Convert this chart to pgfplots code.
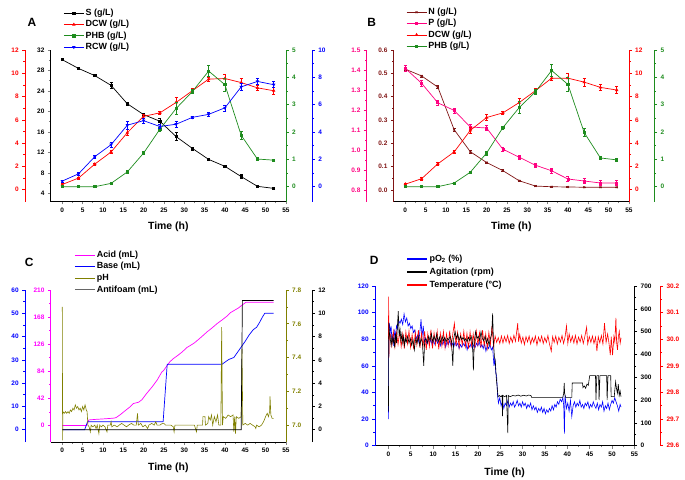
\documentclass[border=0pt]{standalone}
\usepackage{fontspec}
\setmainfont{Liberation Sans}
\usepackage{pgfplots}
\pgfplotsset{compat=1.18}
\definecolor{cgreen}{RGB}{30,140,30}
\definecolor{cbrown}{RGB}{128,20,20}
\definecolor{cpink}{RGB}{255,0,128}
\definecolor{cmag}{RGB}{255,0,255}
\definecolor{colive}{RGB}{128,128,0}
\definecolor{cblue}{RGB}{0,0,255}
\definecolor{cred}{RGB}{255,0,0}
\tikzset{letter/.style={font=\fontsize{12}{12}\selectfont\bfseries}}
\pgfplotsset{
 base/.style={scale only axis, anchor=south west, clip=false,
   axis line style={line width=0.8bp,-},
   tick align=outside, major tick length=2.8bp, minor tick length=1.6bp,
   every tick/.append style={line width=0.6bp},
   minor tick num=1,
   tick label style={font=\fontsize{6.5}{7}\selectfont\bfseries},
   /pgf/number format/assume math mode=true,
   xtick={0,5,...,55},
   xlabel style={at={(axis description cs:0.5,0)}, anchor=center, font=\fontsize{10.5}{12}\selectfont\bfseries},
 },
 yc/.style={y axis line style={draw=#1}, every y tick/.append style={draw=#1}, yticklabel style={text=#1}},
 fix1/.style={yticklabel style={/pgf/number format/.cd, fixed, fixed zerofill, precision=1}},
 eb/.style={error bars/.cd, y dir=both, y explicit, error bar style={line width=0.5bp}, error mark options={rotate=90, mark size=1.5bp, line width=0.5bp}},
 leg/.style 2 args={legend style={at={#1}, anchor=north west, draw=none, fill=none, inner sep=0pt, outer sep=0pt, cells={anchor=west}, row sep=0pt, font=\fontsize{9}{10}\selectfont\bfseries, #2},
   legend image code/.code={\draw[mark repeat=2, mark phase=2, ##1] plot coordinates {(0bp,0bp) (10bp,0bp) (20bp,0bp)};}},
}
\begin{document}
\begin{tikzpicture}
\useasboundingbox (0,0) rectangle (685bp,480bp);
% ================= PANEL A =================
\begin{axis}[base, at={(50.7bp,278.3bp)}, width=235.2bp, height=151.7bp,
  xmin=-2.85, xmax=55, ymin=2.4, ymax=32, ytick={4,8,...,32},
  axis x line*=bottom, axis y line*=left, xlabel={Time (h)}, xlabel style={yshift=-25bp}]
\addplot[black, line width=0.7bp, mark=square*, mark size=1.1bp, eb] coordinates {
(0,30.1)+-(0,0.15) (4,28.4)+-(0,0.15) (8,27.0)+-(0,0.2) (12,25.1)+-(0,0.6) (16,21.5)+-(0,0.2) (20,19.4)+-(0,0.3) (24,18.1)+-(0,0.5) (28,15.1)+-(0,0.8) (32,12.8)+-(0,0.3) (36,10.65)+-(0,0.2) (40,9.3)+-(0,0.2) (44,7.3)+-(0,0.4) (48,5.4)+-(0,0.2) (52,5.0)+-(0,0.15)};
\node[letter] at (axis description cs:-0.0795,1.1826) {A};
\end{axis}
\begin{axis}[base, yc=cred, at={(25bp,278.3bp)}, width=260.9bp, height=151.7bp,
  xmin=-9.174, xmax=55, ymin=-1.03, ymax=12, ytick={0,2,...,12},
  hide x axis, axis y line*=left]
\addplot[cred, line width=0.7bp, mark=triangle*, mark size=1.3bp, eb] coordinates {
(0,0.45)+-(0,0.1) (4,1.0)+-(0,0.1) (8,2.2)+-(0,0.1) (12,3.24)+-(0,0.15) (16,4.9)+-(0,0.25) (20,6.3)+-(0,0.2) (24,6.6)+-(0,0.1) (28,7.5)+-(0,0.45) (32,8.5)+-(0,0.2) (36,9.5)+-(0,0.15) (40,9.55)+-(0,0.4) (44,9.2)+-(0,0.35) (48,8.75)+-(0,0.25) (52,8.5)+-(0,0.3)};
\end{axis}
\begin{axis}[base, yc=cgreen, at={(50.7bp,278.3bp)}, width=235.2bp, height=151.7bp,
  xmin=-2.85, xmax=55, ymin=-0.55, ymax=5, ytick={0,1,...,5},
  hide x axis, axis y line*=right]
\addplot[cgreen, line width=0.7bp, mark=square*, mark size=1.1bp, eb] coordinates {
(0,0)+-(0,0.02) (4,0)+-(0,0.02) (8,0)+-(0,0.02) (12,0.12)+-(0,0.02) (16,0.54)+-(0,0.03) (20,1.23)+-(0,0.06) (24,2.1)+-(0,0.06) (28,2.86)+-(0,0.22) (32,3.48)+-(0,0.08) (36,4.23)+-(0,0.2) (40,3.73)+-(0,0.25) (44,1.88)+-(0,0.15) (48,1.01)+-(0,0.06) (52,0.97)+-(0,0.04)};
\end{axis}
\begin{axis}[base, yc=cblue, at={(50.7bp,278.3bp)}, width=261.3bp, height=151.7bp,
  xmin=-2.85, xmax=61.42, ymin=-1.1, ymax=10, ytick={0,2,...,10},
  hide x axis, axis y line*=right,
  leg={(0.049,1.2795)}{nodes={inner sep=1.5bp, text height=6.5bp, text depth=1.8bp}}]
\addlegendimage{black, line width=0.7bp, mark=square*, mark size=1.1bp}\addlegendentry{S (g/L)}
\addlegendimage{cred, line width=0.7bp, mark=triangle*, mark size=1.3bp}\addlegendentry{DCW (g/L)}
\addlegendimage{cgreen, line width=0.7bp, mark=square*, mark size=1.1bp}\addlegendentry{PHB (g/L)}
\addlegendimage{cblue, line width=0.7bp, mark=triangle*, mark options={rotate=180}, mark size=1.3bp}\addlegendentry{RCW (g/L)}
\addplot[forget plot, cblue, line width=0.7bp, mark=triangle*, mark options={rotate=180}, mark size=1.3bp, eb] coordinates {
(0,0.41)+-(0,0.08) (4,0.94)+-(0,0.08) (8,2.2)+-(0,0.1) (12,3.07)+-(0,0.15) (16,4.5)+-(0,0.3) (20,4.83)+-(0,0.2) (24,4.4)+-(0,0.15) (28,4.57)+-(0,0.22) (32,5.07)+-(0,0.1) (36,5.29)+-(0,0.12) (40,5.77)+-(0,0.22) (44,7.3)+-(0,0.25) (48,7.7)+-(0,0.2) (52,7.46)+-(0,0.22)};
\end{axis}
% ================= PANEL B =================
\begin{axis}[base, yc=cbrown, fix1, at={(393.7bp,278.3bp)}, width=235.2bp, height=151.7bp,
  xmin=-2.85, xmax=55, ymin=-0.05, ymax=0.6, ytick={0,0.1,0.2,0.3,0.4,0.5,0.6},
  axis x line*=bottom, axis y line*=left, x axis line style={draw=black}, xlabel={Time (h)}, xlabel style={yshift=-25bp}]
\addplot[cbrown, line width=0.7bp, mark=x, mark size=1.3bp, eb] coordinates {
(0,0.518)+-(0,0.005) (4,0.489)+-(0,0.004) (8,0.441)+-(0,0.007) (12,0.259)+-(0,0.006) (16,0.164)+-(0,0.007) (20,0.118)+-(0,0.003) (24,0.083)+-(0,0.004) (28,0.040)+-(0,0.003) (32,0.017)+-(0,0.002) (36,0.014)+-(0,0.002) (40,0.013)+-(0,0.002) (44,0.012)+-(0,0.002) (48,0.012)+-(0,0.002) (52,0.012)+-(0,0.002)};
\node[letter] at (axis description cs:-0.0935,1.1826) {B};
\end{axis}
\begin{axis}[base, yc=cpink, fix1, at={(366.7bp,278.3bp)}, width=262.2bp, height=151.7bp,
  xmin=-9.49, xmax=55, ymin=0.7415, ymax=1.5, ytick={0.8,0.9,1.0,1.1,1.2,1.3,1.4,1.5},
  hide x axis, axis y line*=left]
\addplot[cpink, line width=0.7bp, mark=square, mark size=1.0bp, eb] coordinates {
(0,1.408)+-(0,0.015) (4,1.334)+-(0,0.013) (8,1.236)+-(0,0.013) (12,1.198)+-(0,0.013) (16,1.115)+-(0,0.012) (20,1.11)+-(0,0.012) (24,1.004)+-(0,0.012) (28,0.964)+-(0,0.012) (32,0.924)+-(0,0.012) (36,0.896)+-(0,0.013) (40,0.855)+-(0,0.012) (44,0.845)+-(0,0.012) (48,0.835)+-(0,0.012) (52,0.835)+-(0,0.013)};
\end{axis}
\begin{axis}[base, yc=cred, at={(393.7bp,278.3bp)}, width=235.2bp, height=151.7bp,
  xmin=-2.85, xmax=55, ymin=-1.03, ymax=12, ytick={0,2,...,12},
  hide x axis, axis y line*=right]
\addplot[cred, line width=0.7bp, mark=triangle*, mark size=1.3bp, eb] coordinates {
(0,0.48)+-(0,0.1) (4,0.94)+-(0,0.1) (8,2.22)+-(0,0.1) (12,3.24)+-(0,0.15) (16,5.1)+-(0,0.25) (20,6.2)+-(0,0.25) (24,6.6)+-(0,0.1) (28,7.48)+-(0,0.4) (32,8.5)+-(0,0.2) (36,9.58)+-(0,0.15) (40,9.58)+-(0,0.4) (44,9.24)+-(0,0.35) (48,8.79)+-(0,0.25) (52,8.56)+-(0,0.3)};
\end{axis}
\begin{axis}[base, yc=cgreen, at={(393.7bp,278.3bp)}, width=260.6bp, height=151.7bp,
  xmin=-2.85, xmax=61.25, ymin=-0.55, ymax=5, ytick={0,1,...,5},
  hide x axis, axis y line*=right,
  leg={(0.048,1.286)}{nodes={inner sep=1.5bp, text height=6.5bp, text depth=1.8bp}}]
\addlegendimage{cbrown, line width=0.7bp, mark=x, mark size=1.3bp}\addlegendentry{N (g/L)}
\addlegendimage{cpink, line width=0.7bp, mark=square, mark size=1.0bp}\addlegendentry{P (g/L)}
\addlegendimage{cred, line width=0.7bp, mark=triangle*, mark size=1.3bp}\addlegendentry{DCW (g/L)}
\addlegendimage{cgreen, line width=0.7bp, mark=square*, mark size=1.1bp}\addlegendentry{PHB (g/L)}
\addplot[forget plot, cgreen, line width=0.7bp, mark=square*, mark size=1.1bp, eb] coordinates {
(0,0)+-(0,0.02) (4,0)+-(0,0.02) (8,0)+-(0,0.02) (12,0.13)+-(0,0.02) (16,0.53)+-(0,0.03) (20,1.23)+-(0,0.07) (24,2.16)+-(0,0.06) (28,2.89)+-(0,0.22) (32,3.47)+-(0,0.08) (36,4.25)+-(0,0.22) (40,3.74)+-(0,0.25) (44,1.98)+-(0,0.15) (48,1.05)+-(0,0.06) (52,0.98)+-(0,0.04)};
\end{axis}
% ================= PANEL C =================
\begin{axis}[base, yc=cmag, at={(50.7bp,38bp)}, width=235.2bp, height=152bp,
  xmin=-2.85, xmax=55, ymin=-25.7, ymax=210, ytick={0,42,...,210},
  axis x line*=bottom, axis y line*=left, x axis line style={draw=black}, xlabel={Time (h)}, xlabel style={yshift=-25.7bp}]
\addplot[cmag, line width=0.7bp] coordinates {
(0,0)(6.0,0)(6.5,8.5)(8,9.3)(9.3,9.8)(11,10.5)(12.5,11.2)(13.2,12)(14.2,16.4)(15.5,23)(16.7,29)(17.5,34)(18.8,36)(19.6,40)(20.8,50)(22,59)(23.3,70)(24.5,83)(24.9,85)(25.8,93)(26.5,99)(27.4,104)(28.5,109)(29.5,114)(30.7,121)(31.5,124)(32.5,128)(34,136)(35.6,145)(36.8,151)(38.1,158)(39.4,164)(40.6,170)(41.4,175)(42.2,178)(43.3,182)(44.3,187)(45.2,191)(52,191)};
\node[letter] at (axis description cs:-0.091,1.182) {C};
\end{axis}
\begin{axis}[base, yc=cblue, at={(25bp,38bp)}, width=260.9bp, height=152bp,
  xmin=-9.174, xmax=55, ymin=-5.3, ymax=60, ytick={0,10,...,60},
  hide x axis, axis y line*=left]
\addplot[cblue, line width=0.7bp] coordinates {
(0,0)(5.5,0)(6.2,3.4)(24.8,3.4)(25.8,28.1)(39.3,28.1)(40.0,29.0)(41.0,30.2)(42.2,31.0)(43.0,33.0)(44.0,35.5)(45.0,38.0)(46.0,40.8)(47.0,43.0)(47.8,44.0)(48.5,46.0)(49.2,48.3)(49.8,50.0)(52.0,50.0)};
\end{axis}
\begin{axis}[base, yc=colive, fix1, at={(50.7bp,38bp)}, width=235.2bp, height=152bp,
  xmin=-2.85, xmax=55, ymin=6.9, ymax=7.8, ytick={7.0,7.2,7.4,7.6,7.8},
  hide x axis, axis y line*=right]
\addplot[colive, line width=0.6bp] coordinates {
(0,7.70)(0.08,6.91)(0.15,7.08)(0.5,7.07)(0.8,7.08)(1.1,7.07)(1.4,7.08)(1.7,7.07)(2.0,7.09)(2.3,7.08)(2.6,7.10)(2.9,7.09)(3.2,7.12)(3.5,7.10)(3.8,7.11)(4.1,7.09)(4.4,7.10)(4.7,7.08)(5.0,7.11)(5.3,7.09)(5.6,7.12)(5.9,7.09)(6.1,7.08)(6.3,7.00)(6.6,6.99)(6.9,6.96)(7.1,7.00)(7.5,6.99)(8.0,7.00)(8.3,6.98)(8.6,7.00)(9.0,6.95)(9.2,7.00)(9.6,6.99)(10.0,7.00)(10.5,6.99)(11.0,6.96)(11.2,7.00)(11.8,7.00)(12.0,7.02)(12.2,6.99)(12.8,7.00)(13.5,6.99)(14.0,7.00)(14.6,7.01)(15.2,7.00)(15.8,6.99)(16.3,7.00)(17.0,7.01)(17.6,7.00)(18.2,7.00)(18.5,7.07)(18.7,7.00)(19.3,7.01)(19.8,6.99)(20.4,7.00)(21.0,6.98)(21.3,7.00)(22.0,7.01)(22.6,7.00)(23.0,7.02)(23.3,7.00)(24.0,7.00)(24.6,7.01)(25.0,7.01)(25.4,7.00)(26.0,7.00)(26.7,7.00)(27.3,6.99)(27.5,6.96)(27.7,7.00)(28.5,7.00)(29.5,7.00)(30.5,7.00)(31.5,7.00)(32.5,7.00)(33.0,6.96)(33.2,7.00)(34.0,7.00)(34.5,7.00)(34.6,7.05)(35.1,7.05)(35.2,7.00)(35.8,7.01)(36.0,7.05)(36.4,7.03)(36.7,7.06)(37.0,7.00)(37.4,7.05)(37.8,7.02)(38.2,7.06)(38.5,7.00)(39.0,7.00)(39.2,7.58)(39.4,7.00)(39.6,7.05)(40.2,7.04)(40.8,7.06)(41.4,7.05)(42.0,7.06)(42.2,6.96)(42.4,7.05)(42.6,6.95)(42.8,7.05)(43.4,7.04)(44.0,7.05)(44.2,7.45)(44.4,7.00)(45.0,7.01)(45.6,7.00)(46.2,7.01)(46.8,7.00)(47.4,6.99)(47.6,6.98)(47.8,7.00)(48.4,6.99)(49.0,7.00)(49.5,7.02)(50.0,7.05)(50.4,7.07)(50.7,7.05)(51.0,7.08)(51.1,7.17)(51.3,7.06)(51.6,7.04)(52.0,7.04)};
\end{axis}
\begin{axis}[base, yc=black, at={(50.7bp,38bp)}, width=261.3bp, height=152bp,
  xmin=-2.85, xmax=61.42, ymin=-1.05, ymax=12, ytick={0,2,...,12},
  hide x axis, axis y line*=right,
  leg={(0.091,1.269)}{nodes={inner sep=1.5bp, text height=6.7bp, text depth=1.9bp}}]
\addlegendimage{cmag, line width=0.8bp}\addlegendentry{Acid (mL)}
\addlegendimage{cblue, line width=0.8bp}\addlegendentry{Base (mL)}
\addlegendimage{colive, line width=0.8bp}\addlegendentry{pH}
\addlegendimage{black!60, line width=0.8bp}\addlegendentry{Antifoam (mL)}
\addplot[forget plot, black, line width=0.7bp] coordinates {
(0,0)(44.0,0)(44.3,11.1)(52,11.1)};
\end{axis}
% ================= PANEL D =================
\begin{axis}[base, yc=cblue, at={(375bp,34.3bp)}, width=259.4bp, height=159.7bp,
  xmin=-3, xmax=55, ymin=0, ymax=120, ytick={0,20,...,120},
  axis x line*=bottom, axis y line*=left, x axis line style={draw=black}, xlabel={Time (h)}, xlabel style={yshift=-26.6bp}]
\addplot[cblue, line width=0.6bp] coordinates {
(0,20)(0.05,60)(0.1,88)(0.2,92)(0.4,85)(0.6,90)(0.8,78)(1.0,84)(1.2,75)(1.4,86)(1.6,82)(1.8,90)(2.0,88)(2.3,94)(2.6,92)(2.9,95)(3.2,91)(3.5,99)(3.8,93)(4.1,96)(4.4,90)(4.7,92)(5.0,88)(5.3,90)(5.6,85)(5.9,87)(6.2,80)(6.5,83)(6.8,78)(7.1,88)(7.3,95)(7.5,82)(7.8,90)(8.0,78)(8.3,81)(8.6,76)(8.9,80)(9.2,77)(9.5,80)(9.8,75)(10.1,79)(10.4,76)(10.7,80)(11.0,77)(11.3,79)(11.6,75)(11.9,78)(12.2,76)(12.5,80)(12.8,74)(13.1,78)(13.4,76)(13.7,79)(14.0,75)(14.3,77)(14.6,74)(14.9,78)(15.2,75)(15.5,77)(15.8,73)(16.1,76)(16.4,74)(16.7,77)(17.0,75)(17.3,78)(17.6,72)(17.9,76)(18.2,74)(18.5,77)(18.8,73)(19.1,76)(19.4,74)(19.7,77)(20.0,75)(20.3,78)(20.6,74)(20.9,76)(21.2,73)(21.5,77)(21.8,71)(22.1,75)(22.4,73)(22.7,76)(23.0,72)(23.3,74)(23.6,60)(23.8,66)(24.0,55)(24.2,52)(24.4,38)(24.6,32)(24.9,36)(25.2,30)(25.5,33)(25.8,28)(26.1,32)(26.4,30)(26.7,34)(27.0,29)(27.3,32)(27.6,30)(27.9,33)(28.2,29)(28.5,31)(28.8,34)(29.1,30)(29.4,32)(29.7,29)(30.0,33)(30.3,30)(30.6,32)(30.9,28)(31.2,31)(31.5,29)(31.8,32)(32.1,27)(32.4,30)(32.7,27)(33.0,29)(33.3,25)(33.6,28)(33.9,26)(34.2,29)(34.5,25)(34.8,28)(35.1,24)(35.4,27)(35.7,25)(36.0,28)(36.3,26)(36.6,30)(36.9,27)(37.2,31)(37.5,29)(37.8,33)(38.1,31)(38.4,35)(38.7,33)(39.0,36)(39.2,30)(39.35,9)(39.5,38)(39.8,28)(40.1,32)(40.4,26)(40.7,34)(41.0,22)(41.3,30)(41.6,33)(41.9,29)(42.2,32)(42.5,30)(42.8,34)(43.1,29)(43.4,31)(43.7,28)(44.0,32)(44.3,30)(44.6,33)(44.9,28)(45.2,31)(45.5,29)(45.8,33)(46.1,30)(46.4,28)(46.7,32)(47.0,27)(47.3,31)(47.6,29)(47.9,33)(48.2,26)(48.5,30)(48.8,28)(49.1,32)(49.4,27)(49.7,31)(50.0,34)(50.3,32)(50.6,36)(50.9,33)(51.2,30)(51.5,26)(51.8,31)(52.0,29)};
\node[letter] at (axis description cs:-0.0027,1.163) {D};
\end{axis}
\begin{axis}[base, yc=cred, fix1, at={(375bp,34.3bp)}, width=285.2bp, height=159.7bp,
  xmin=-3, xmax=60.75, ymin=29.6, ymax=30.2, ytick={29.6,29.7,29.8,29.9,30.0,30.1,30.2},
  hide x axis, axis y line*=right]
\addplot[cred, line width=0.6bp] coordinates {
(0,30.0)(0.05,30.16)(0.1,29.93)(0.2,30.02)(0.4,30.02)(0.75,29.975)(1.10,30.03)(1.45,29.97)(1.80,30.025)(2.15,29.98)(2.50,30.03)(2.85,29.972)(3.20,30.02)(3.55,29.965)(3.90,30.028)(4.25,29.982)(4.60,30.032)(4.95,29.97)(5.30,30.018)(5.65,29.962)(6.00,30.025)(6.35,29.978)(6.70,30.034)(7.05,29.968)(7.40,30.022)(7.75,29.975)(8.10,30.03)(8.45,29.96)(8.80,30.02)(9.15,29.972)(9.50,30.036)(9.85,29.966)(10.20,30.024)(10.55,29.98)(10.90,30.03)(11.25,29.962)(11.60,30.022)(11.95,29.974)(12.30,30.028)(12.65,29.968)(13.00,30.02)(13.35,29.976)(13.70,30.032)(14.05,29.97)(14.40,30.022)(14.75,30.06)(15.10,29.975)(15.45,30.026)(15.80,29.968)(16.15,30.02)(16.50,29.978)(16.85,30.03)(17.20,29.972)(17.55,30.022)(17.90,29.965)(18.25,30.028)(18.60,29.975)(18.95,30.02)(19.30,29.968)(19.65,30.03)(20.00,29.978)(20.35,30.024)(20.70,29.97)(21.05,30.034)(21.40,29.974)(21.75,30.02)(22.10,29.966)(22.45,30.026)(22.80,29.98)(23.15,30.05)(23.50,29.972)(23.85,30.012)(24.20,29.988)(24.55,30.006)(24.90,29.984)(25.25,30.012)(25.60,29.986)(25.95,30.010)(26.30,29.990)(26.65,30.014)(27.00,29.984)(27.35,30.008)(27.70,29.988)(28.05,30.015)(28.40,29.992)(28.90,30.06)(29.10,29.990)(29.35,30.018)(29.70,29.986)(30.05,30.008)(30.40,29.980)(30.75,30.010)(31.10,29.990)(31.45,30.012)(31.80,29.982)(32.15,30.006)(32.50,29.988)(32.85,30.012)(33.20,29.978)(33.55,30.008)(33.90,29.990)(34.25,30.012)(34.60,29.984)(34.95,30.006)(35.30,29.988)(35.65,30.014)(36.00,29.982)(36.40,29.955)(36.70,30.010)(37.05,29.988)(37.40,30.012)(37.75,29.982)(38.10,30.008)(38.45,29.990)(38.80,30.014)(39.15,29.984)(39.50,30.010)(39.80,30.05)(40.10,29.984)(40.40,30.02)(40.75,29.99)(41.10,30.012)(41.45,29.986)(41.80,30.014)(42.15,29.982)(42.50,30.008)(42.85,29.990)(43.20,30.014)(43.55,29.984)(43.90,30.010)(44.30,30.045)(44.55,29.982)(44.90,30.010)(45.25,29.988)(45.60,30.012)(45.95,29.984)(46.30,30.008)(46.60,29.955)(46.90,30.010)(47.25,29.986)(47.60,30.014)(47.95,29.982)(48.30,30.06)(48.65,29.988)(49.00,30.02)(49.30,29.985)(49.60,29.94)(49.80,30.010)(50.10,29.94)(50.40,30.01)(50.60,29.99)(50.85,30.08)(51.0,29.99)(51.20,29.96)(51.40,30.01)(51.60,30.03)(51.80,29.985)(52.00,30.005)};
\end{axis}
\begin{axis}[base, yc=black, at={(375bp,34.3bp)}, width=259.4bp, height=159.7bp,
  xmin=-3, xmax=55, ymin=0, ymax=700, ytick={0,100,...,700},
  hide x axis, axis y line*=right,
  leg={(0.1223,1.21)}{nodes={inner sep=1.7bp, text height=7.2bp, text depth=2.4bp}}]
\addlegendimage{cblue, line width=1.1bp}\addlegendentry{pO\textsubscript{2} (\%)}
\addlegendimage{black, line width=1.1bp}\addlegendentry{Agitation (rpm)}
\addlegendimage{cred, line width=1.1bp}\addlegendentry{Temperature (°C)}
\addplot[forget plot, black, line width=0.6bp] coordinates {
(0,150)(0.1,540)(0.2,500)(0.4,470)(0.6,440)(0.8,480)(1.0,450)(1.2,470)(1.4,430)(1.6,490)(1.8,450)(2.0,520)(2.2,590)(2.4,480)(2.6,510)(2.8,460)(3.0,490)(3.2,450)(3.4,480)(3.6,440)(3.8,470)(4.0,455)(4.3,480)(4.6,450)(4.9,470)(5.2,440)(5.5,465)(5.8,420)(6.1,470)(6.4,450)(6.7,480)(7.0,440)(7.3,470)(7.6,450)(7.9,350)(8.1,460)(8.4,470)(8.7,450)(9.0,480)(9.3,460)(9.6,490)(9.9,455)(10.2,480)(10.5,460)(10.8,490)(11.1,455)(11.4,475)(11.7,450)(12.0,480)(12.3,460)(12.6,475)(12.9,455)(13.2,470)(13.5,465)(13.8,480)(14.1,460)(14.4,350)(14.6,470)(14.9,500)(15.2,470)(15.5,490)(15.8,460)(16.1,480)(16.4,465)(16.7,475)(17.0,460)(17.3,470)(17.6,455)(17.9,475)(18.2,460)(18.5,480)(18.8,450)(19.0,330)(19.2,460)(19.5,500)(19.8,470)(20.1,480)(20.4,460)(20.7,500)(21.0,470)(21.3,460)(21.6,480)(21.9,450)(22.2,470)(22.5,440)(22.8,470)(23.1,490)(23.3,580)(23.5,450)(23.7,390)(23.9,370)(24.1,300)(24.3,260)(24.5,215)(24.8,220)(25.1,215)(25.4,220)(25.5,130)(25.6,220)(26.0,215)(26.4,220)(26.7,55)(26.8,220)(27.2,215)(27.8,220)(28.4,218)(29.0,222)(29.6,217)(30.2,221)(30.8,218)(31.4,222)(31.9,219)(32.0,212)(39.0,212)(39.2,230)(39.3,275)(39.4,230)(39.6,212)(41.0,212)(41.1,275)(43.4,275)(43.5,255)(43.8,262)(44.1,252)(44.4,270)(44.7,265)(45.0,307)(46.3,307)(46.4,200)(46.6,307)(47.0,307)(47.1,200)(47.3,307)(48.8,307)(48.9,200)(49.1,307)(49.7,307)(49.8,215)(50.5,215)(50.6,240)(50.8,280)(51.0,250)(51.2,230)(51.4,270)(51.6,220)(51.8,240)(52.0,215)};
\end{axis}
\end{tikzpicture}
\end{document}
